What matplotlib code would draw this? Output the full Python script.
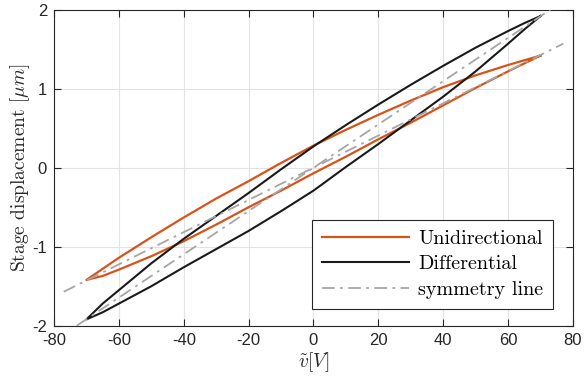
import matplotlib
matplotlib.use('Agg')
import matplotlib.pyplot as plt
import numpy as np

plt.rcParams['mathtext.fontset'] = 'cm'
plt.rcParams['axes.unicode_minus'] = False

v = [-70, -65, -60, -50, -40, -30, -20, -10, 0, 10, 20, 30, 40, 50, 60, 65, 70]

# Unidirectional loop, displacement (um)
uni_upper = [-1.42, -1.28, -1.14, -0.88, -0.63, -0.39, -0.17, 0.06, 0.28,
             0.48, 0.67, 0.85, 1.02, 1.17, 1.30, 1.36, 1.42]
uni_lower = [-1.42, -1.37, -1.29, -1.12, -0.93, -0.72, -0.50, -0.29, -0.07,
             0.14, 0.36, 0.57, 0.79, 1.01, 1.22, 1.32, 1.42]

# Differential loop
dif_upper = [-1.92, -1.72, -1.55, -1.21, -0.90, -0.61, -0.32, -0.02, 0.27,
             0.54, 0.80, 1.05, 1.29, 1.52, 1.73, 1.83, 1.92]
dif_lower = [-1.92, -1.83, -1.72, -1.50, -1.26, -1.03, -0.80, -0.55, -0.29,
             0.01, 0.30, 0.60, 0.90, 1.22, 1.57, 1.75, 1.92]

# symmetry lines (end points)
sym_uni_v = [-77, 77]
sym_uni_y = [-1.57, 1.57]
sym_dif_v = [-73, 73]
sym_dif_y = [-2.0, 2.0]

xticks = [-80, -60, -40, -20, 0, 20, 40, 60, 80]
yticks = [-2, -1, 0, 1, 2]

axcol = '#262626'
orange = '#D95319'

fig = plt.figure(figsize=(5.84, 3.81), dpi=100)
ax = fig.add_axes([0.0925, 0.1451, 0.8886, 0.8294])

loop_v = v[::-1] + v[1:]
ax.plot(loop_v, uni_upper[::-1] + uni_lower[1:], color=orange, lw=1.6,
        label='Unidirectional', zorder=3)
ax.plot(loop_v, dif_upper[::-1] + dif_lower[1:], color='#1a1a1a', lw=1.5,
        label='Differential', zorder=3)
ax.plot(sym_uni_v, sym_uni_y, color='#a6a6a6', lw=1.3, dashes=(7, 3, 1.5, 3),
        label='symmetry line', zorder=4)
ax.plot(sym_dif_v, sym_dif_y, color='#a6a6a6', lw=1.3, dashes=(7, 3, 1.5, 3),
        zorder=4)

ax.set_xlim(-80, 80)
ax.set_ylim(-2, 2)
ax.set_xticks(xticks)
ax.set_yticks(yticks)
ax.set_xticklabels([str(t) for t in xticks])
ax.set_yticklabels([str(t) for t in yticks])
ax.grid(True, color='#e3e3e3', lw=0.8)
ax.set_axisbelow(True)
ax.tick_params(direction='in', length=5, width=0.8, colors=axcol, labelsize=12,
               top=True, right=True, labelfontfamily='Liberation Sans', pad=5)
for s in ax.spines.values():
    s.set_color(axcol)
    s.set_linewidth(0.8)

ax.set_xlabel(r'$\tilde{v}[V]$', fontsize=14, color=axcol, labelpad=2)
ax.set_ylabel(r'Stage displacement $[\mu m]$', fontsize=14, color=axcol,
              fontfamily='cmr10', labelpad=0)

leg = ax.legend(loc='lower right', bbox_to_anchor=(0.962, 0.052), borderaxespad=0,
                prop={'family': 'cmr10', 'size': 14.5}, fancybox=False,
                framealpha=1, edgecolor=axcol, handlelength=4.3,
                handletextpad=0.45, labelspacing=0.38, borderpad=0.5)
leg.get_frame().set_linewidth(0.8)

fig.savefig('out.png', dpi=100)
